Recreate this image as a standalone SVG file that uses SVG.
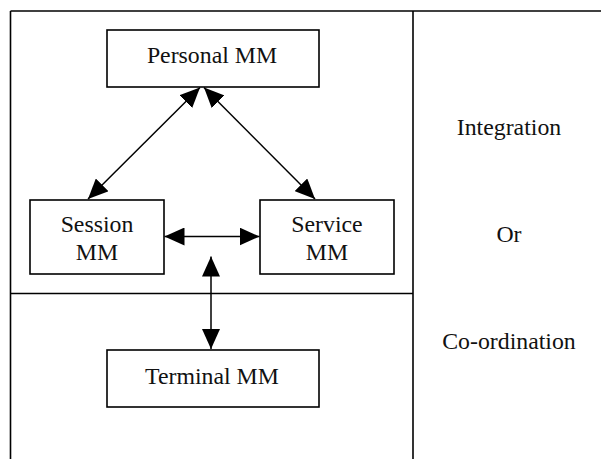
<svg xmlns="http://www.w3.org/2000/svg" width="601" height="459" viewBox="0 0 601 459">
  <style>
    .frame { stroke: #000; stroke-width: 1.6; fill: none; }
    .box { fill: #fff; stroke: #000; stroke-width: 1.6; }
    .lbl { font-family: "Liberation Serif", "Times New Roman", serif; font-size: 23.8px; fill: #111; text-anchor: middle; }
    .conn { stroke: #000; stroke-width: 1.5; fill: none; marker-start: url(#ah); marker-end: url(#ah); }
  </style>
  <defs>
    <marker id="ah" markerUnits="userSpaceOnUse" markerWidth="20" markerHeight="18" viewBox="0 0 20 18" refX="20" refY="9" orient="auto-start-reverse">
      <path d="M0,0 L20,9 L0,18 z" fill="#000"/>
    </marker>
  </defs>

  <g id="frame">
    <line class="frame" x1="10.5" y1="11" x2="601" y2="11"/>
    <line class="frame" x1="10.5" y1="11" x2="10.5" y2="459"/>
    <line class="frame" x1="413" y1="11" x2="413" y2="459"/>
    <line class="frame" x1="10.5" y1="293.5" x2="413" y2="293.5"/>
  </g>

  <g id="connectors">
    <line class="conn" x1="200" y1="87.5" x2="88" y2="199"/>
    <line class="conn" x1="204" y1="87.5" x2="315" y2="199"/>
    <line class="conn" x1="164.5" y1="236.5" x2="259.5" y2="236.5"/>
    <line class="conn" x1="211" y1="256.5" x2="211" y2="349"/>
  </g>

  <g id="personal">
    <rect class="box" x="107" y="30" width="212" height="57"/>
    <text class="lbl" x="212" y="63">Personal MM</text>
  </g>

  <g id="session">
    <rect class="box" x="30" y="200" width="134" height="74"/>
    <text class="lbl" x="97" y="232">Session</text>
    <text class="lbl" x="97" y="260">MM</text>
  </g>

  <g id="service">
    <rect class="box" x="260" y="200" width="134" height="74"/>
    <text class="lbl" x="327" y="232">Service</text>
    <text class="lbl" x="327" y="260">MM</text>
  </g>

  <g id="terminal">
    <rect class="box" x="107" y="350" width="212" height="57"/>
    <text class="lbl" x="212" y="383.5">Terminal MM</text>
  </g>

  <g id="side-labels">
    <text class="lbl" x="509" y="135">Integration</text>
    <text class="lbl" x="509" y="242">Or</text>
    <text class="lbl" x="509" y="348.5">Co-ordination</text>
  </g>
</svg>
